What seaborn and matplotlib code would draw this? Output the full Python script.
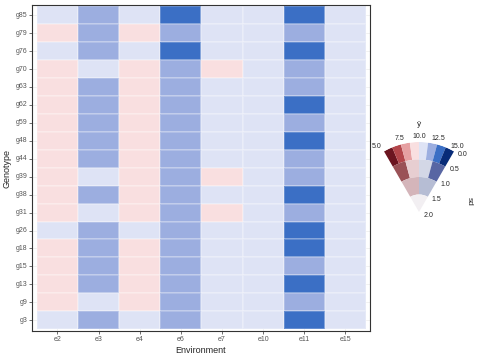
import numpy as np
import pandas as pd
import seaborn as sns
import matplotlib.pyplot as plt
from matplotlib.colors import ListedColormap

genotypes = ['g85', 'g79', 'g76', 'g70', 'g63', 'g62', 'g59', 'g48', 'g44',
             'g39', 'g38', 'g31', 'g26', 'g18', 'g15', 'g13', 'g9', 'g3']
environments = ['e2', 'e3', 'e4', 'e6', 'e7', 'e10', 'e11', 'e15']

# estimated mean yield per cell (top row g85 ... bottom row g3)
e2 = [10.6, 9.4, 10.6, 9.4, 9.4, 9.4, 9.4, 9.4, 9.4, 9.4, 9.4, 9.4, 10.6, 9.4, 9.4, 9.4, 9.4, 10.6]
e3 = [11.9, 11.9, 11.9, 10.6, 11.9, 11.9, 11.9, 11.9, 11.9, 10.6, 11.9, 10.6, 11.9, 11.9, 11.9, 11.9, 10.6, 11.9]
e4 = [10.6, 9.4, 10.6, 9.4, 9.4, 9.4, 9.4, 9.4, 9.4, 9.4, 9.4, 9.4, 10.6, 9.4, 9.4, 9.4, 9.4, 10.6]
e6 = [13.1, 11.9, 13.1, 11.9, 11.9, 11.9, 11.9, 11.9, 11.9, 11.9, 11.9, 11.9, 11.9, 11.9, 11.9, 11.9, 11.9, 11.9]
e7 = [10.6, 10.6, 10.6, 9.4, 10.6, 10.6, 10.6, 10.6, 10.6, 9.4, 10.6, 9.4, 10.6, 10.6, 10.6, 10.6, 10.6, 10.6]
e10 = [10.6, 10.6, 10.6, 10.6, 10.6, 10.6, 10.6, 10.6, 10.6, 10.6, 10.6, 10.6, 10.6, 10.6, 10.6, 10.6, 10.6, 10.6]
e11 = [13.1, 11.9, 13.1, 11.9, 11.9, 13.1, 11.9, 13.1, 11.9, 11.9, 13.1, 11.9, 13.1, 13.1, 11.9, 13.1, 11.9, 13.1]
e15 = [10.6, 10.6, 10.6, 10.6, 10.6, 10.6, 10.6, 10.6, 10.6, 10.6, 10.6, 10.6, 10.6, 10.6, 10.6, 10.6, 10.6, 10.6]

# value-suppressing palette: one ring per sd level, fewer colours as sd grows
ring_colors = [
    ['#6b1520', '#b3464b', '#e6a0a2', '#f9dfe0', '#dee3f5', '#9caee0', '#3b6fc5', '#082c78'],
    ['#9a5257', '#e7ced1', '#d3d7e6', '#5866a3'],
    ['#d4b5ba', '#b6bdd4'],
    ['#f2eff2'],
]
legend_values = [5.0, 7.5, 10.0, 12.5, 15.0]
legend_sd = [0.0, 0.5, 1.0, 1.5, 2.0]

df = pd.DataFrame({'e2': e2, 'e3': e3, 'e4': e4, 'e6': e6, 'e7': e7,
                   'e10': e10, 'e11': e11, 'e15': e15}, index=genotypes)
df = df[environments]

sns.set_style('white')
plt.rcParams['font.family'] = ['Liberation Sans', 'DejaVu Sans']

W, H = 478, 359
fig = plt.figure(figsize=(W / 100, H / 100), dpi=100)
ax = fig.add_axes([32 / W, 1 - 331 / H, 338 / W, 326 / H])

sns.heatmap(df, ax=ax, cmap=ListedColormap(ring_colors[0]), vmin=5, vmax=15,
            cbar=False, linewidths=0.3, linecolor=(1, 1, 1, 0.22))

for s in ax.spines.values():
    s.set_visible(True)
    s.set_color('#333333')
    s.set_linewidth(0.8)
ax.set_xlim(-0.12, 8.1)
ax.set_ylim(18.1, -0.07)
ax.set_axisbelow(True)
ax.grid(True, color='#ebebeb', lw=0.5)
ax.tick_params(axis='both', length=2, width=0.5, color='#333333', pad=1.5,
               labelsize=5, labelcolor='#555555', left=True, bottom=True)
ax.set_yticklabels(genotypes, rotation=0)
ax.set_xticklabels(environments, rotation=0)
ax.set_xlabel('Environment', fontsize=6.5, labelpad=2)
ax.set_ylabel('Genotype', fontsize=6.5, labelpad=3)

# fan legend
cx, cy, R = 419, 212, 70
lax = fig.add_axes([(cx - R) / W, 1 - (cy + R) / H, 2 * R / W, 2 * R / H], projection='polar')
lax.set_ylim(0, 2)
lax.set_axis_off()


def angle(v):
    return np.deg2rad(120 - (np.asarray(v) - 5) * 6)


for level, colors in enumerate(ring_colors):
    n = len(colors)
    edges = np.linspace(5, 15, n + 1)
    centers = (edges[:-1] + edges[1:]) / 2
    lax.bar(angle(centers), 0.5, width=np.deg2rad(60 / n), bottom=1.5 - 0.5 * level,
            color=colors, linewidth=0, align='center')

for v in legend_values:
    ha = 'right' if v == 5.0 else 'center'
    lax.text(angle(v), 2.16, f'{v:.1f}', fontsize=5, ha=ha, va='center')
for sd in legend_sd:
    lax.annotate(f'{sd:.1f}', xy=(angle(15), 2 - sd), xytext=(3, -2.2),
                 textcoords='offset points', fontsize=5, ha='left', va='center')
lax.text(angle(10), 2.5, 'ŷ', fontsize=6, ha='center', va='center')
fig.text(469 / W, 1 - 201 / H, 'sd', fontsize=6, rotation=-90, ha='center', va='center')

fig.savefig('out.png', dpi=100)
